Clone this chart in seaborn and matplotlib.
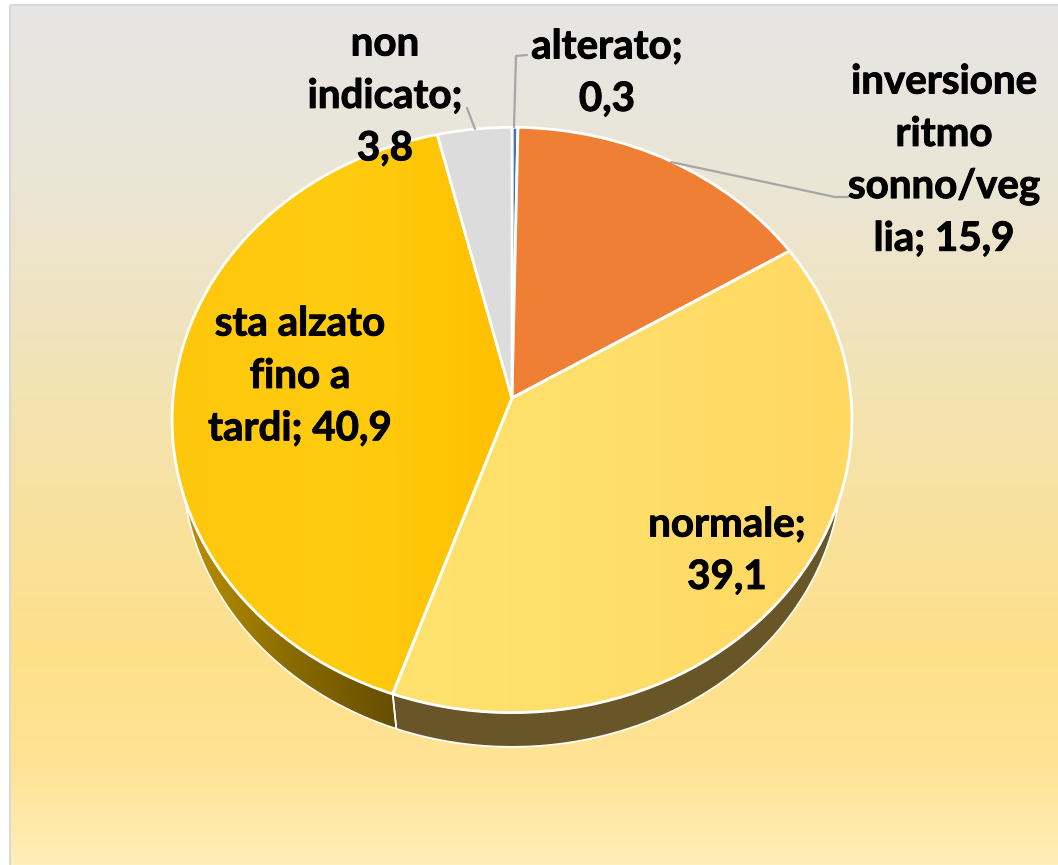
import numpy as np
import matplotlib
matplotlib.use("Agg")
import matplotlib.pyplot as plt
import matplotlib.patheffects as pe
from matplotlib.colors import LinearSegmentedColormap
from matplotlib.patches import PathPatch, Rectangle
from matplotlib.path import Path
import seaborn as sns

# dati
categorie = ["alterato", "inversione ritmo sonno/veglia", "normale", "sta alzato fino a tardi", "non indicato"]
valori = [0.3, 15.9, 39.1, 40.9, 3.8]
etichette = [
    "alterato;\n0,3",
    "inversione\nritmo\nsonno/veg\nlia; 15,9",
    "normale;\n39,1",
    "sta alzato\nfino a\ntardi; 40,9",
    "non\nindicato;\n3,8",
]
colori = ["#4472c4", "#ef7f35", "#ffdc69", "#ffc70c", "#dcdcdc"]

sns.set_theme(style="white")
plt.rcParams["font.family"] = ["Lato", "DejaVu Sans"]

fig = plt.figure(figsize=(10.58, 8.65), dpi=100, facecolor="white")
ax = fig.add_axes([0, 0, 1, 1])

wedges, _ = ax.pie(valori, colors=sns.color_palette(colori), startangle=90, counterclock=False, radius=1)

# sfondo a gradiente
sfondo = LinearSegmentedColormap.from_list("sfondo", [
    (0.0, "#e6e6e6"), (0.23, "#ebe5d3"), (0.55, "#f7e2a4"),
    (0.76, "#ffe08a"), (0.88, "#ffe394"), (1.0, "#ffeeb8")])
ax.imshow(np.linspace(0, 1, 256).reshape(-1, 1), cmap=sfondo, extent=[10, 1058, 865, 5],
          aspect="auto", zorder=0)
ax.add_patch(Rectangle((10, 5), 1060, 870, fill=False, ec="#d9d9d9", lw=1.5, zorder=0.5))

# sfumature leggere delle due fette grandi
sfumature = {
    2: (["#ffe26f", "#ffde6a", "#ffd862"], [393, 852, 720, 250]),
    3: (["#ffc70c", "#ffcc10", "#ffc000"], [172, 512, 700, 130]),
}


def proietta(u, v):
    # cerchio unitario -> disco inclinato in prospettiva (pixel)
    w = 1 + 0.075 * v
    return 512 + 339 * u / w, 398 - 291 * v / w


def sotto(x, y):
    # bordo inferiore del disco, un po' piu piccolo
    return 512 + 0.97 * (x - 512), 463 + 0.97 * (y - 420)


for i, w in enumerate(wedges):
    p = w.get_patch_transform().transform_path(w.get_path())
    x, y = proietta(p.vertices[:, 0], p.vertices[:, 1])
    faccia = PathPatch(Path(np.column_stack([x, y]), p.codes), fc=colori[i], ec="white", lw=2,
                       joinstyle="round", zorder=4)

    # fianco visibile solo per le due fette in basso
    if i in (2, 3):
        t = np.radians(np.linspace(w.theta1, w.theta2, 200))
        xs, ys = proietta(np.cos(t), np.sin(t))
        xb, yb = sotto(xs, ys)
        poli = np.vstack([np.column_stack([xs, ys]), np.column_stack([xb, yb])[::-1]])
        fianco = ax.fill(poli[:, 0], poli[:, 1], fc="#685629", ec="white", lw=1.2, zorder=2)[0]
        if i == 3:
            fianco.set_facecolor("none")
            grad = LinearSegmentedColormap.from_list("fianco", ["#bb9000", "#8a6b00", "#664d00"])
            im = ax.imshow(np.linspace(0, 1, 256).reshape(1, -1), cmap=grad, extent=[185, 397, 760, 480],
                           aspect="auto", zorder=1.5)
            im.set_clip_path(fianco)
    w.remove()
    ax.add_patch(faccia)
    if i in sfumature:
        tinte, estensione = sfumature[i]
        faccia.set_facecolor("none")
        cm = LinearSegmentedColormap.from_list("faccia%d" % i, tinte)
        im = ax.imshow(np.linspace(0, 1, 256).reshape(1, -1), cmap=cm, extent=estensione,
                       aspect="auto", zorder=3.5)
        im.set_clip_path(faccia)

# linee guida
for lx, ly in [([514, 516, 527], [127, 56, 55]), ([475, 467], [129, 108]), ([671, 835, 848], [162, 197, 197])]:
    ax.plot(lx, ly, color="#a6a6a6", lw=1.6, zorder=5)

# etichette
centri = [(607, 47), (944, 82), (727, 525), (300, 324), (385, 44)]
for testo, (cx, cy) in zip(etichette, centri):
    for r, riga in enumerate(testo.split("\n")):
        ax.text(cx, cy + r * 52.4, riga, ha="center", va="center", fontsize=29, fontweight="bold",
                color="black", zorder=6,
                path_effects=[pe.withStroke(linewidth=0.7, foreground="black")])

ax.set_aspect("auto")
ax.set_xlim(0, 1058)
ax.set_ylim(865, 0)
ax.axis("off")

fig.savefig("out.png", dpi=100, facecolor="white")
